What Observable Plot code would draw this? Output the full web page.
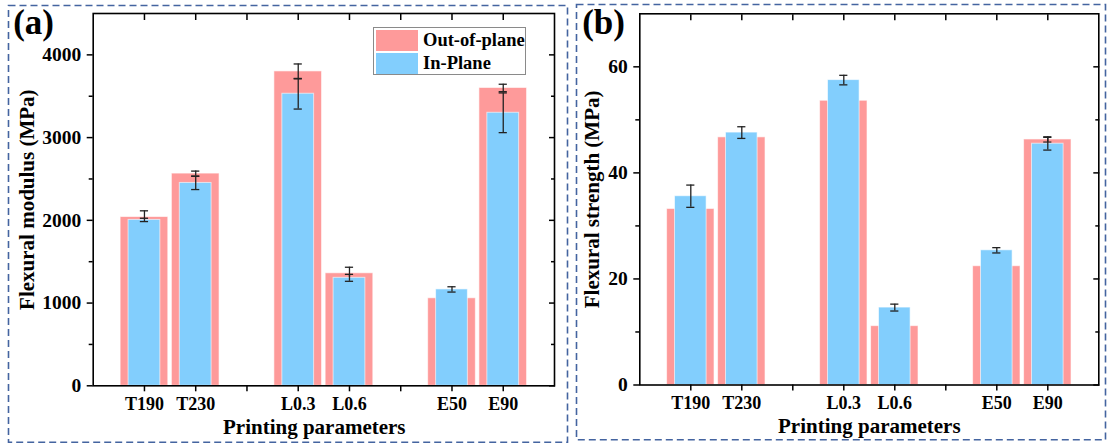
<!DOCTYPE html>
<html><head><meta charset="utf-8">
<script src="https://cdn.jsdelivr.net/npm/d3@7"></script>
<script src="https://cdn.jsdelivr.net/npm/@observablehq/plot@0.6"></script>
<style>
body{margin:0;background:#fff;}
#wrap{position:relative;width:1108px;height:445px;overflow:hidden;font-family:"Liberation Serif","Times New Roman",serif;}
.panel{position:absolute;top:0;}
.panel text{font-family:"Liberation Serif","Times New Roman",serif;}
.legend{position:absolute;left:373px;top:27px;width:151px;height:46px;border:1px solid #8a8a8a;background:#fff;font-weight:bold;font-size:18.5px;}
.legend .row{position:absolute;left:2px;height:21px;display:flex;align-items:center;}
.legend .sw{width:42px;height:21px;margin-right:5px;}
</style></head><body><div id="wrap"></div>
<script>
// ---- data ----
const slots = ["T190", "T230", "", "L0.3", "L0.6", "", "E50", "E90"];
const categories = ["T190", "T230", "L0.3", "L0.6", "E50", "E90"];
const seriesNames = ["Out-of-plane", "In-Plane"];
const modulusOut = [2040, 2565, 3800, 1360, 1058, 3600];
const modulusOutErr = [75, 30, 90, 73, null, 45];
const modulusIn = [2005, 2452, 3530, 1305, 1165, 3300];
const modulusInErr = [20, 80, 185, 42, 32, 240];
const strengthOut = [33.2, 46.7, 53.6, 11.1, 22.4, 46.3];
const strengthOutErr = [null, null, null, null, null, 0.5];
const strengthIn = [35.6, 47.6, 57.5, 14.6, 25.4, 45.5];
const strengthInErr = [2.1, 1.1, 0.9, 0.65, 0.5, 1.2];
const modulusTicks = [0, 1000, 2000, 3000, 4000];
const modulusMinor = [500, 1500, 2500, 3500];
const strengthTicks = [0, 20, 40, 60];
const strengthMinor = [10, 30, 50];

const colors = ["#fe9a9a", "#82cefd"];
const font = '"Liberation Serif", "Times New Roman", serif';

function panel(cfg) {
  const rows = categories.map((c, i) => ({
    cat: c, pos: slots.indexOf(c) + 1,
    out: cfg.out[i], outErr: cfg.outErr[i], inn: cfg.inn[i], inErr: cfg.inErr[i]
  }));
  const outE = rows.filter(d => d.outErr != null);
  const inE = rows.filter(d => d.inErr != null);
  const errMarks = (data, v, e) => [
    Plot.ruleX(data, {x: "pos", y1: d => d[v] - d[e], y2: d => d[v] + d[e], stroke: "#222", strokeWidth: 1.3}),
    Plot.ruleY(data, {y: d => d[v] + d[e], x1: d => d.pos - 0.08, x2: d => d.pos + 0.08, stroke: "#222", strokeWidth: 1.3}),
    Plot.ruleY(data, {y: d => d[v] - d[e], x1: d => d.pos - 0.08, x2: d => d.pos + 0.08, stroke: "#222", strokeWidth: 1.3})
  ];
  const xt = d3.range(1, slots.length + 1);
  const blank = () => "";
  const T = {fontFamily: font, fontWeight: "bold", fill: "black"};
  return Plot.plot({
    width: cfg.width, height: 445,
    marginLeft: cfg.ml, marginRight: cfg.mr, marginTop: cfg.mt, marginBottom: cfg.mb,
    style: {fontFamily: font, background: "transparent", color: "black", overflow: "visible"},
    x: {domain: [0, slots.length + 1], axis: null},
    y: {domain: cfg.ydomain, axis: null},
    marks: [
      Plot.frame({stroke: "#4464a0", strokeWidth: 1.6, strokeDasharray: "7,4",
        insetLeft: cfg.bl, insetTop: cfg.bt, insetRight: cfg.br, insetBottom: cfg.bb}),
      Plot.rectY(rows, {x1: d => d.pos - 0.465, x2: d => d.pos + 0.465, y1: 0, y2: "out",
        fill: colors[0], stroke: "#fff", strokeOpacity: 0.6, strokeWidth: 1}),
      ...errMarks(outE, "out", "outErr"),
      Plot.rectY(rows, {x1: d => d.pos - 0.31, x2: d => d.pos + 0.31, y1: 0, y2: "inn",
        fill: colors[1], stroke: "#fff", strokeOpacity: 0.6, strokeWidth: 1}),
      ...errMarks(inE, "inn", "inErr"),
      Plot.axisX({ticks: xt, tickFormat: i => slots[i - 1], tickSize: 6, tickPadding: 5,
        fontSize: 18, ...T, label: null, strokeWidth: 1.5}),
      Plot.axisX({anchor: "top", ticks: xt, tickFormat: blank, tickSize: 6, dy: 6, label: null, strokeWidth: 1.5}),
      Plot.axisY({ticks: cfg.yticks, tickFormat: d3.format("d"), tickSize: 6, tickPadding: 6, fontSize: 19.5, ...T, label: null, strokeWidth: 1.5}),
      Plot.axisY({ticks: cfg.yminor, tickSize: 4, tickFormat: blank, label: null, strokeWidth: 1.5}),
      Plot.axisY({anchor: "right", ticks: cfg.yticks, tickSize: 6, dx: -6, tickFormat: blank, label: null, strokeWidth: 1.5}),
      Plot.axisY({anchor: "right", ticks: cfg.yminor, tickSize: 4, dx: -4, tickFormat: blank, label: null, strokeWidth: 1.5}),
      Plot.frame({stroke: "black", strokeWidth: 1.6}),
      Plot.text([cfg.ylabel], {frameAnchor: "left", dx: cfg.ylabelDx, rotate: -90, fontSize: 21, ...T,
        textAnchor: "middle", lineAnchor: "middle"}),
      Plot.text(["Printing parameters"], {frameAnchor: "bottom", dx: cfg.xlabelDx, dy: 41, fontSize: 21, ...T,
        textAnchor: "middle", lineAnchor: "middle"}),
      Plot.text([cfg.tag], {frameAnchor: "top-left", dx: cfg.tagDx, dy: 9, fontSize: 35, ...T,
        textAnchor: "start", lineAnchor: "middle"})
    ]
  });
}

const wrap = document.getElementById("wrap");

const a = panel({
  width: 570, ml: 92.7, mr: 16, mt: 13, mb: 59.7,
  bl: -84.7, bt: -8, br: -13, bb: -56.4,
  ydomain: [0, 4500], yticks: modulusTicks, yminor: modulusMinor,
  out: modulusOut, outErr: modulusOutErr, inn: modulusIn, inErr: modulusInErr,
  ylabel: "Flexural modulus (MPa)", ylabelDx: -66, xlabelDx: -9.6, tag: "(a)", tagDx: -80
});
a.classList.add("panel"); a.style.left = "0px";
wrap.appendChild(a);

const b = panel({
  width: 540, ml: 71.3, mr: 9.7, mt: 13.3, mb: 60.5,
  bl: -63.3, bt: -9.3, br: -6.7, bb: -54.8,
  ydomain: [0, 70], yticks: strengthTicks, yminor: strengthMinor,
  out: strengthOut, outErr: strengthOutErr, inn: strengthIn, inErr: strengthInErr,
  ylabel: "Flexural strength (MPa)", ylabelDx: -47.6, xlabelDx: 0, tag: "(b)", tagDx: -57.6
});
b.classList.add("panel"); b.style.left = "568px";
wrap.appendChild(b);

// legend
const leg = document.createElement("div");
leg.className = "legend";
seriesNames.forEach((name, i) => {
  const row = document.createElement("div");
  row.className = "row";
  row.style.top = (2 + i * 23) + "px";
  const sw = document.createElement("div");
  sw.className = "sw"; sw.style.background = colors[i];
  const t = document.createElement("span");
  t.textContent = name;
  row.appendChild(sw); row.appendChild(t);
  leg.appendChild(row);
});
wrap.appendChild(leg);
</script>
</body></html>
